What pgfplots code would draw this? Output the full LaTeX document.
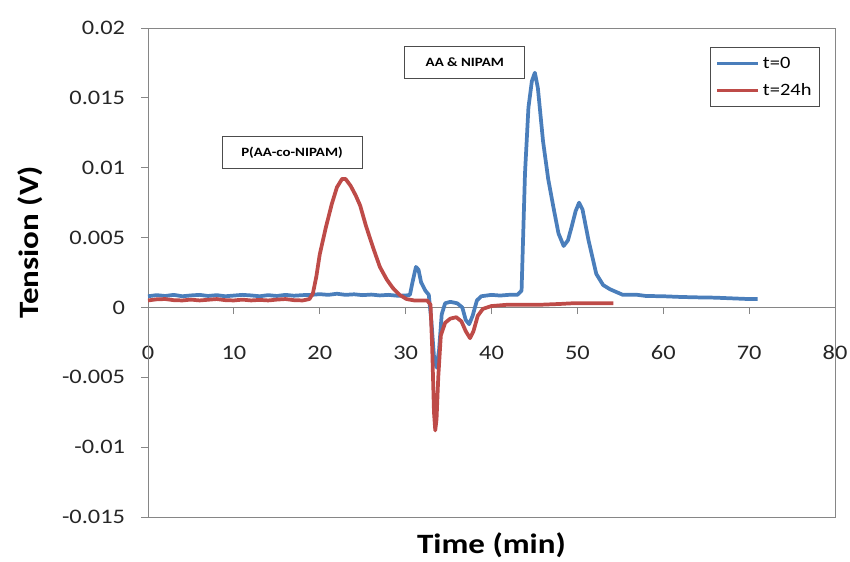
\documentclass[border=0pt]{standalone}
\usepackage{fontspec}
\setmainfont{Carlito}[FakeStretch=1.18]
\usepackage{pgfplots}
\pgfplotsset{compat=1.18}
\definecolor{xlblue}{HTML}{4A7EBB}
\definecolor{xlred}{HTML}{BE4B48}
\definecolor{xlgray}{HTML}{868686}

\begin{document}
\begin{tikzpicture}
\begin{axis}[
    scale only axis,
    width=515.25pt, height=366.75pt,
    xmin=0, xmax=80, ymin=-0.015, ymax=0.02,
    axis x line=middle, axis y line=left,
    hide obscured x ticks=false,
    axis line style={xlgray, line width=0.7pt, -},
    tick style={xlgray, line width=0.7pt},
    tick align=outside,
    major tick length=5pt,
    xtick={0,10,20,30,40,50,60,70,80},
    xticklabels={0,10,20,30,40,50,60,70,80},
    ytick={-0.015,-0.01,-0.005,0,0.005,0.01,0.015,0.02},
    yticklabels={-0.015,-0.01,-0.005,0,0.005,0.01,0.015,0.02},
    scaled y ticks=false,
    ticklabel style={font=\fontsize{15.5}{18}\selectfont, text=black!85},
    xticklabel style={anchor=center, inner sep=0pt, yshift=-29pt},
    yticklabel style={anchor=east, inner sep=0pt, xshift=-12pt},
    xlabel={Time (min)},
    ylabel={Tension (V)},
    label style={font=\bfseries\fontsize{21}{24}\selectfont},
    xlabel style={at={(axis description cs:0.5,0)}, anchor=center, yshift=-21pt},
    ylabel style={at={(axis description cs:-0.171,0.562)}, anchor=center},
    legend style={at={(axis description cs:0.978,0.961)}, anchor=north east,
        draw=black!70, line width=0.6pt, font=\fontsize{13}{15}\selectfont,
        inner xsep=4pt, inner ysep=5pt, row sep=6pt, cells={anchor=west}},
    legend image code/.code={\draw[#1] (0pt,0pt) -- (31pt,0pt);},
    clip=false,
]
\coordinate (bl) at (rel axis cs:0,0);
\coordinate (tr) at (rel axis cs:1,1);
\draw[xlgray, line width=0.7pt] (rel axis cs:0,0) rectangle (rel axis cs:1,1);

\addplot[xlblue, line width=2.8pt, line join=round] coordinates {
(0,0.0008) (1,0.00088) (2,0.00082) (3,0.0009) (4,0.0008) (5,0.00086) (6,0.0009)
(7,0.00082) (8,0.00088) (9,0.0008) (10,0.00085) (11,0.0009) (12,0.00086)
(13,0.0008) (14,0.00088) (15,0.00082) (16,0.0009) (17,0.00084) (18,0.00088)
(19,0.0009) (20,0.00095) (21,0.0009) (22,0.00098) (23,0.0009) (24,0.00094)
(25,0.00088) (26,0.00092) (27,0.00086) (28,0.0009) (29,0.00084) (30,0.00085)
(30.5,0.0009) (30.8,0.0018) (31.2,0.0029) (31.5,0.0027) (31.8,0.0018)
(32.3,0.0012) (32.7,0.0009) (33.0,-0.0010) (33.3,-0.0035) (33.6,-0.0043)
(33.9,-0.0030) (34.2,-0.0005) (34.6,0.0003) (35.2,0.0004) (36.0,0.0003)
(36.6,0.0000) (37.0,-0.0009) (37.4,-0.0012) (37.8,-0.0006) (38.3,0.0005)
(38.8,0.0008) (40,0.0009) (41,0.00085) (42,0.0009) (43,0.0009) (43.5,0.0012)
(43.9,0.0096) (44.3,0.0143) (44.7,0.0162) (45.05,0.0168) (45.4,0.0157)
(46.0,0.0119) (46.6,0.0092) (47.2,0.0072) (47.8,0.0053) (48.4,0.0044)
(48.9,0.0048) (49.3,0.0057) (49.8,0.0069) (50.2,0.0075) (50.6,0.0070)
(51.3,0.0048) (52.2,0.0024) (53.0,0.0016) (53.8,0.0013) (55.3,0.0009)
(57,0.0009) (58,0.00082) (60,0.0008) (62,0.00075) (64,0.00072) (66,0.0007)
(68,0.00065) (70,0.0006) (71,0.0006)
};
\addlegendentry{t=0}

\addplot[xlred, line width=2.8pt, line join=round] coordinates {
(0,0.0005) (1,0.00058) (2,0.0006) (3,0.00052) (4,0.0005) (5,0.00056) (6,0.0005)
(7,0.00055) (8,0.0006) (9,0.00052) (10,0.0005) (11,0.00056) (12,0.0005)
(13,0.00054) (14,0.0005) (15,0.00056) (16,0.0006) (17,0.00052) (18,0.0005)
(18.8,0.0006) (19.2,0.0010) (19.6,0.0022) (20.0,0.0038) (20.7,0.0057)
(21.4,0.0074) (22.0,0.0086) (22.6,0.0092) (23.0,0.0092) (23.6,0.0087)
(24.2,0.0080) (24.7,0.0073) (25.4,0.0058) (26.2,0.0043) (27.0,0.0029)
(27.8,0.0020) (28.5,0.0014) (29.3,0.0009) (30.1,0.0006) (31,0.0005)
(32.5,0.0005) (32.9,0.0002) (33.1,-0.0030) (33.3,-0.0075) (33.45,-0.0088)
(33.6,-0.0080) (33.8,-0.0050) (34.1,-0.0020) (34.6,-0.0011) (35.2,-0.0008)
(35.9,-0.0007) (36.5,-0.0010) (37.0,-0.0017) (37.5,-0.0022) (37.9,-0.0017)
(38.4,-0.0006) (39,-0.0001) (40,0.0001) (42,0.0002) (44,0.0002) (46,0.0002)
(48,0.00025) (49.5,0.0003) (51,0.0003) (53,0.0003) (54.2,0.0003)
};
\addlegendentry{t=24h}

\node[draw=black!70, line width=0.6pt, fill=white, minimum width=105pt, minimum height=24pt,
      font=\bfseries\fontsize{9.5}{11}\selectfont] at (axis cs:16.77,0.0111) {P(AA-co-NIPAM)};
\node[draw=black!70, line width=0.6pt, fill=white, minimum width=90pt, minimum height=24pt,
      font=\bfseries\fontsize{9.5}{11}\selectfont] at (axis cs:36.9,0.01757) {AA \& NIPAM};
\end{axis}
\pgfresetboundingbox
\path ([shift={(-111pt,-33pt)}]bl) rectangle ([shift={(11.25pt,21pt)}]tr);
\end{tikzpicture}
\end{document}
